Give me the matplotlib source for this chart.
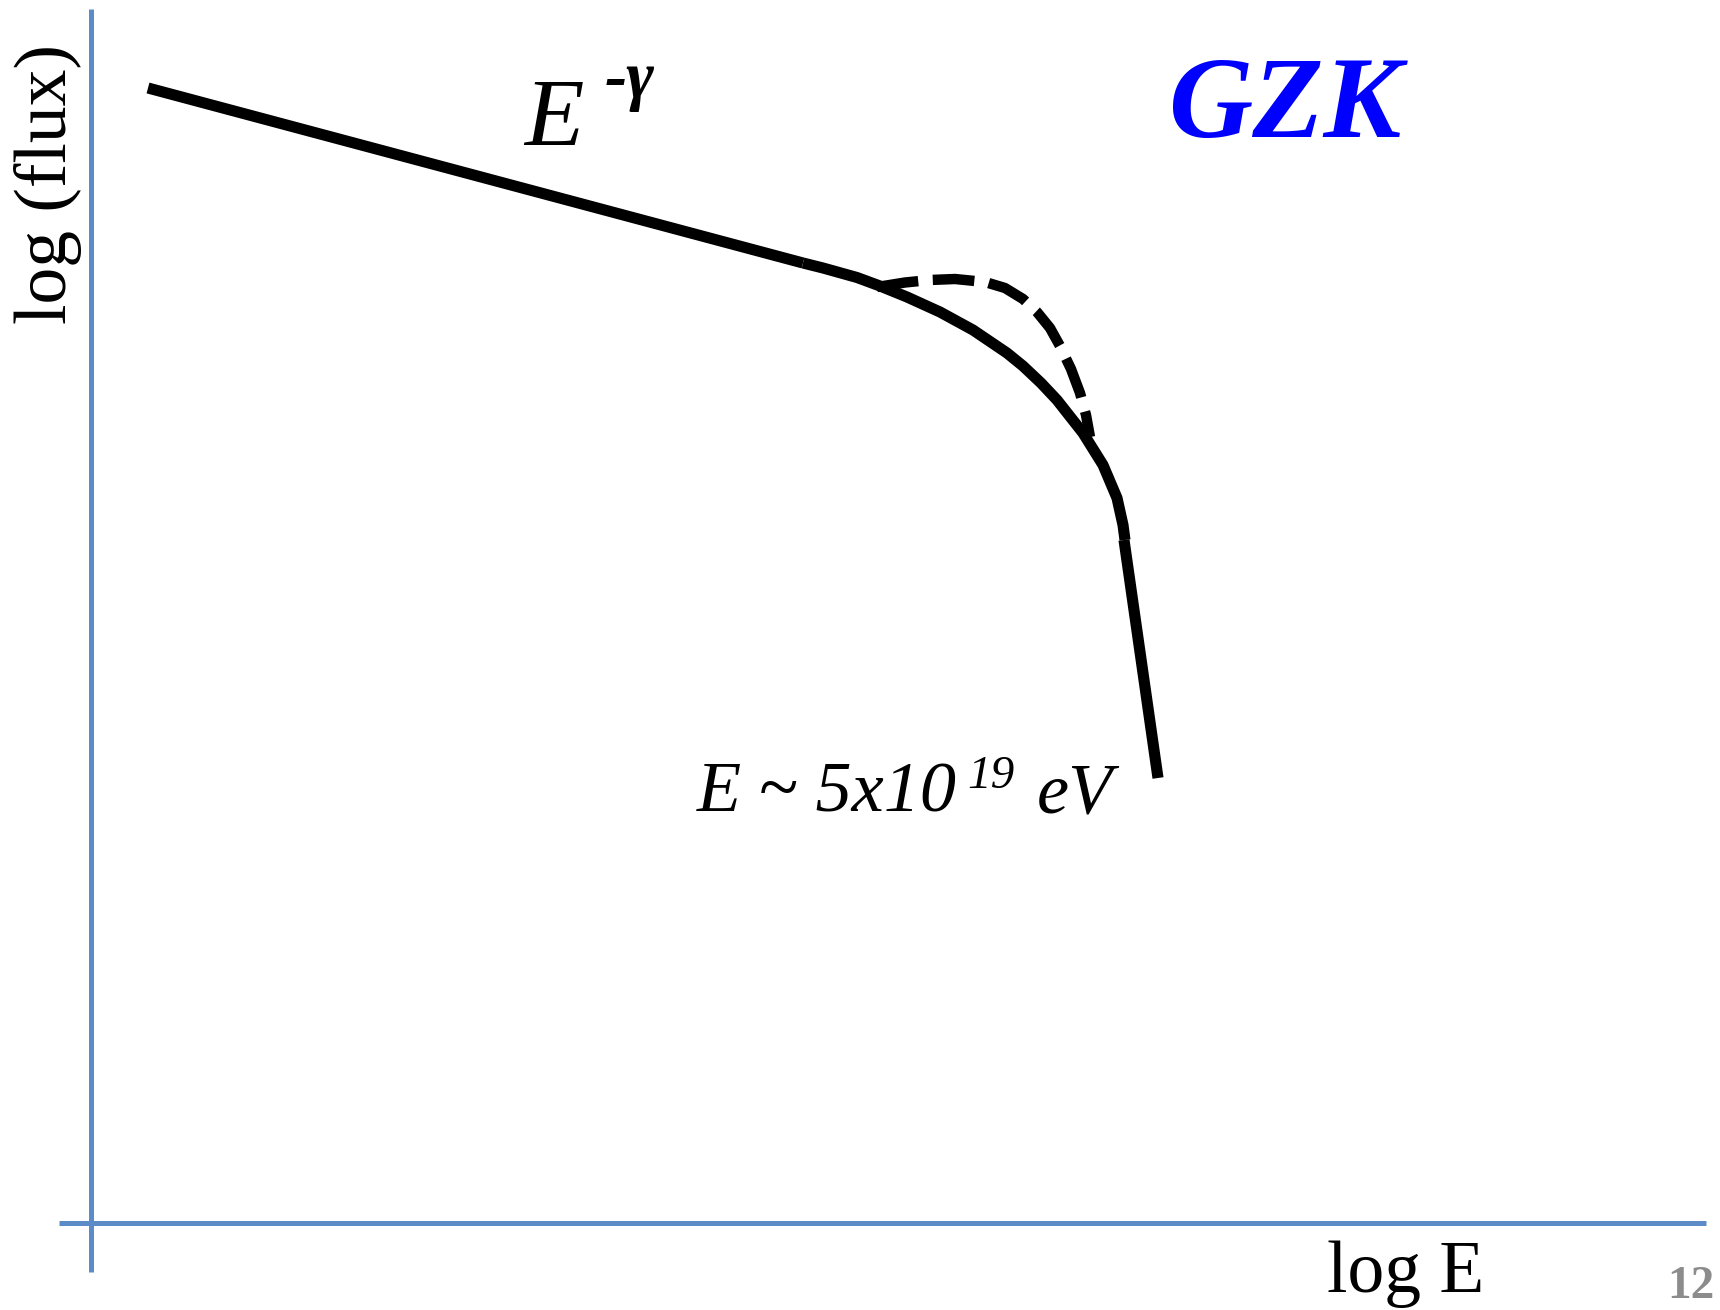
import numpy as np
import matplotlib.pyplot as plt

# schematic spectrum (arbitrary log units, origin at the axes crossing)
power_law_x = [0.57, 7.12]
power_law_y = [11.35, 9.60]

knee_x = [7.12, 7.32, 7.66, 7.89, 8.16, 8.49, 8.82, 9.16, 9.32, 9.50, 9.66,
          9.92, 10.12, 10.26, 10.32, 10.34]
knee_y = [9.60, 9.55, 9.455, 9.37, 9.26, 9.11, 8.93, 8.70, 8.57, 8.40, 8.23,
          7.90, 7.58, 7.25, 6.98, 6.83]

cutoff_x = [10.33, 10.67]
cutoff_y = [6.83, 4.45]

bump_x = [7.86, 8.14, 8.39, 8.64, 8.94, 9.14, 9.32, 9.46, 9.59, 9.69, 9.80,
          9.89, 9.95, 9.99]
bump_y = [9.36, 9.405, 9.43, 9.44, 9.41, 9.35, 9.24, 9.11, 8.95, 8.77, 8.54,
          8.30, 8.08, 7.86]

AXIS_COLOR = '#5b8cc8'
SERIF = ['Liberation Serif', 'DejaVu Serif']

fig = plt.figure(figsize=(17.2, 13.1), dpi=100)
ax = fig.add_axes([0, 0, 1, 1])
ax.set_xlim(-0.91, 16.29)
ax.set_ylim(-0.87, 12.23)
ax.axis('off')

# axes drawn by hand, like on the slide
ax.plot([-0.32, 16.15], [0, 0], color=AXIS_COLOR, lw=3.6, solid_capstyle='butt')
ax.plot([0, 0], [-0.49, 12.14], color=AXIS_COLOR, lw=3.6, solid_capstyle='butt')

line_kw = dict(color='black', lw=8, solid_capstyle='butt', solid_joinstyle='round')
ax.plot(power_law_x, power_law_y, **line_kw)
ax.plot(knee_x, knee_y, **line_kw)
ax.plot(cutoff_x, cutoff_y, **line_kw)
ax.plot(bump_x, bump_y, color='black', lw=7.5, dashes=(4.0, 1.4),
        dash_capstyle='butt', dash_joinstyle='round')

# labels
ax.text(4.33, 10.77, 'E', fontsize=70, style='italic', family=SERIF,
        ha='left', va='baseline')
ax.text(5.14, 11.25, '-γ', fontsize=48, style='italic', weight='bold',
        family=SERIF, ha='left', va='baseline')

ax.text(6.06, 4.11, 'E ~ 5x10', fontsize=52, style='italic', family=SERIF,
        ha='left', va='baseline')
ax.text(8.76, 4.35, '19', fontsize=34, style='italic', family=SERIF,
        ha='left', va='baseline')
ax.text(9.46, 4.11, 'eV', fontsize=52, style='italic', family=SERIF,
        ha='left', va='baseline')

ax.text(10.77, 10.86, 'GZK', fontsize=84, style='italic', weight='bold',
        color='#0000ff', family=SERIF, ha='left', va='baseline')

ax.text(-0.43, 10.39, 'log (flux)', fontsize=53, rotation=90, family=SERIF,
        ha='center', va='center')
ax.text(12.36, -0.69, 'log E', fontsize=53, family=SERIF,
        ha='left', va='baseline')
ax.text(15.76, -0.75, '12', fontsize=34, weight='bold', color='#8c8c8c',
        family=SERIF, ha='left', va='baseline')

fig.savefig('out.png', dpi=100)
